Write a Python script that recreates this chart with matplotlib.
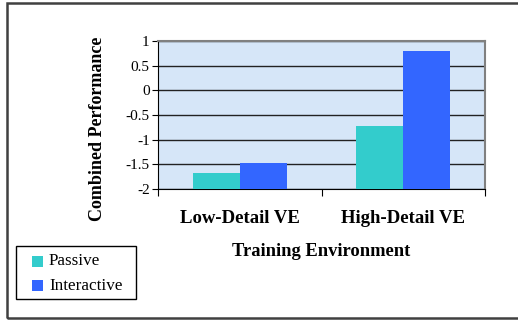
import matplotlib
matplotlib.use("Agg")
import matplotlib.pyplot as plt
import numpy as np
from matplotlib.patches import Rectangle

categories = ["Low-Detail VE", "High-Detail VE"]
series_names = ["Passive", "Interactive"]
passive = [-1.68, -0.72]
interactive = [-1.47, 0.80]
yticks = [-2, -1.5, -1, -0.5, 0, 0.5, 1]
ytick_labels = ["-2", "-1.5", "-1", "-0.5", "0", "0.5", "1"]

colors = ["#33cccc", "#3366ff"]

plt.rcParams["font.family"] = ["Liberation Serif", "DejaVu Serif"]

W, H = 518, 320
fig = plt.figure(figsize=(W / 100, H / 100), dpi=100)


def fx(px):
    return px / W


def fy(py):
    return 1 - py / H


# outer chart frame
fig.patches.append(Rectangle((fx(7), fy(318)), fx(W + 5 - 7), (318 - 3) / H,
                             transform=fig.transFigure, fill=False,
                             edgecolor="#404040", linewidth=1.8))

ax = fig.add_axes([fx(158), fy(189), fx(485 - 158), (189 - 41) / H])
ax.set_facecolor("#d6e6f8")

x = np.arange(len(categories))
bw = 0.2875
base = -2
bars_p = ax.bar(x - bw / 2, np.array(passive) - base, bw, bottom=base,
                color=colors[0], label=series_names[0], zorder=3)
bars_i = ax.bar(x + bw / 2, np.array(interactive) - base, bw, bottom=base,
                color=colors[1], label=series_names[1], zorder=3)

ax.set_xlim(-0.5, len(categories) - 0.5)
ax.set_ylim(-2, 1)
ax.set_yticks(yticks)
ax.set_yticklabels(ytick_labels, fontsize=11)
ax.yaxis.grid(True, color="#222222", linewidth=1.0, zorder=1)
ax.set_axisbelow(True)

ax.set_xticks([-0.5, 0.5, 1.5])
ax.set_xticklabels([])
ax.set_xticks(x, minor=True)
ax.set_xticklabels(categories, minor=True, fontsize=13.5, fontweight="bold")
ax.tick_params(axis="x", which="minor", length=0, pad=15)
ax.tick_params(axis="x", which="major", length=5, direction="out", color="black")
ax.tick_params(axis="y", length=4, direction="out", pad=2, color="black")

for s in ["top", "right"]:
    ax.spines[s].set_color("#808080")
    ax.spines[s].set_linewidth(1.5)
ax.spines["bottom"].set_color("black")
ax.spines["left"].set_color("black")

ax.set_ylabel("Combined Performance", fontsize=13, fontweight="bold")
ax.yaxis.set_label_coords(-0.159, 0.41)
ax.set_xlabel("Training Environment", fontsize=13.3, fontweight="bold", labelpad=12)

# legend box with colour keys
fig.patches.append(Rectangle((fx(16), fy(299)), fx(136 - 16), (299 - 246) / H,
                             transform=fig.transFigure, facecolor="white",
                             edgecolor="black", linewidth=1.0))
for i, (name, col) in enumerate(zip(series_names, colors)):
    cy = 261 + 24.5 * i
    fig.patches.append(Rectangle((fx(32), fy(cy + 5.5)), fx(11), 11 / H,
                                 transform=fig.transFigure, facecolor=col,
                                 edgecolor="none"))
    fig.text(fx(49), fy(cy), name, fontsize=12.3, va="center", ha="left")

fig.savefig("out.png", dpi=100)
